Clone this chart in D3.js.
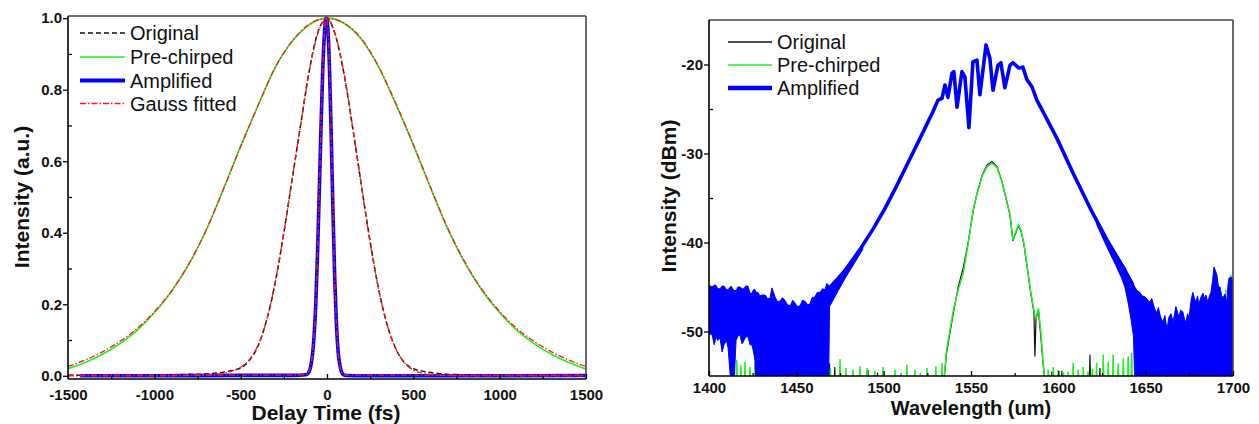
<!DOCTYPE html>
<html>
<head>
<meta charset="utf-8">
<script src="https://cdn.jsdelivr.net/npm/d3@7"></script>
<style>
  body { margin: 0; background: #fff; }
  svg text { font-family: "Liberation Sans", Arial, Helvetica, sans-serif; fill: #111; }
</style>
</head>
<body>
<svg id="chart" width="1259" height="424"></svg>
<script>
// ---------- Left panel: autocorrelation traces ----------
const delayWide = [-1500,-1400,-1300,-1200,-1100,-1000,-900,-800,-700,-600,-500,-400,-300,-200,-100,0,
                   100,200,300,400,500,600,700,800,900,1000,1100,1200,1300,1400,1500];
const preChirped    = [0.020,0.037,0.060,0.090,0.127,0.176,0.236,0.312,0.407,0.522,0.642,0.755,0.862,0.936,0.982,1.000,
                       0.985,0.940,0.862,0.758,0.645,0.525,0.410,0.314,0.237,0.176,0.127,0.090,0.060,0.037,0.019];
const preChirpedFit = [0.026,0.044,0.067,0.096,0.132,0.179,0.238,0.313,0.407,0.521,0.641,0.755,0.862,0.937,0.984,1.000,
                       0.986,0.942,0.864,0.760,0.647,0.527,0.412,0.317,0.240,0.180,0.132,0.096,0.067,0.044,0.026];

const delayMid = [-1500,-1300,-1100,-900,-800,-700,-650,-600,-550,-500,-450,-400,-350,-300,-250,-200,-150,-100,-50,0,
                  50,100,150,200,250,300,350,400,450,500,550,600,650,700,800,900,1100,1300,1500];
const original    = [0.002,0.001,0.002,0.003,0.004,0.005,0.007,0.010,0.015,0.022,0.043,0.083,0.155,0.260,0.400,0.555,0.710,0.860,0.965,0.998,
                     0.950,0.840,0.690,0.530,0.375,0.240,0.140,0.074,0.036,0.020,0.013,0.009,0.006,0.004,0.003,0.002,0.001,0.002,0.001];
const originalFit = [0,0,0,0,0.001,0.002,0.004,0.007,0.013,0.024,0.045,0.085,0.155,0.262,0.400,0.556,0.710,0.860,0.962,0.998,
                     0.952,0.842,0.690,0.530,0.372,0.240,0.140,0.074,0.036,0.016,0.008,0.004,0.002,0.001,0,0,0,0,0];

const delayNarrow = [-1430,-1000,-500,-200,-120,-105,-95,-85,-75,-65,-55,-45,-35,-25,-15,-5,
                     5,15,25,35,45,55,65,75,85,95,110,200,500,1000,1500];
const amplified    = [0,0,0.001,0.001,0.003,0.010,0.025,0.055,0.110,0.200,0.340,0.510,0.690,0.850,0.955,1.000,
                      0.970,0.850,0.660,0.450,0.270,0.140,0.065,0.028,0.010,0.003,0.001,0,0,0,0.001];
const delayFit = [-1500,-1000,-500,-200,-120,-105,-95,-85,-75,-65,-55,-45,-35,-25,-15,-5,
                  5,15,25,35,45,55,65,75,85,95,110,200,500,1000,1500];
const amplifiedFit = [0.002,0.002,0.002,0.002,0.004,0.011,0.027,0.057,0.112,0.200,0.340,0.510,0.690,0.850,0.955,1.000,
                      0.970,0.850,0.660,0.450,0.270,0.140,0.065,0.028,0.010,0.004,0.002,0.002,0.002,0.002,0.002];

const delayTicks = [-1500,-1000,-500,0,500,1000,1500];
const delayMinor = [-1250,-750,-250,250,750,1250];
const intensityTicks = [0,0.2,0.4,0.6,0.8,1.0];
const intensityMinor = [0.1,0.3,0.5,0.7,0.9];

// ---------- Right panel: optical spectra ----------
// amplified spectrum, main trace
const wlMain = [1468,1472,1478.8,1486.4,1493.9,1500.7,1507,1513.3,1520.8,1528.2,1531.1,1533.4,1535.1,1536.8,1539.1,1540.2,
                1542.0,1544.8,1546.5,1548.8,1551.1,1553.4,1555.1,1558.6,1560.8,1562.6,1565.4,1567.1,1569.4,1572.3,1574.0,
                1577.4,1579.7,1582.0,1584.9,1587.7,1591.2,1599.2,1608.4,1618.1,1627.8,1637.0,1642.7];
const ampMain = [-45.5,-44.6,-42.9,-40.8,-38.5,-36.2,-33.8,-31.3,-28.3,-25.3,-24.0,-23.8,-22.3,-23.7,-21.0,-20.8,
                 -24.8,-20.8,-21.4,-27.1,-19.7,-19.5,-23.4,-17.8,-19.3,-22.9,-20.1,-19.8,-22.6,-20.1,-19.8,
                 -20.4,-20.3,-21.7,-22.5,-24.0,-25.3,-28.3,-32.2,-36.1,-39.7,-42.75,-44.8];

// amplified spectrum, short-wavelength noise band (upper / lower envelope)
const wlNoiseL = [1400,1401.7,1403,1404,1405,1406.3,1407.5,1408.6,1410,1410.9,
                  1412.6,1414.3,1415.5,1416.6,1417.7,1419,1420,1421,1422.3,1423.5,
                  1424.6,1425.5,1426.3,1427,1428,1429.2,1430.5,1432.1,1433.5,1434.9,
                  1436,1437.8,1439,1440.6,1442,1443.5,1445,1446.4,1448,1449.2,
                  1450.5,1452.1,1453.5,1455,1456.5,1457.8,1459,1460.7,1462,1463.5,
                  1465,1466.4,1467.5,1468.5,1469,1471,1474,1478,1483,1488];
const noiseLHi = [-44.8,-45.0,-44.8,-44.8,-45.2,-45.2,-44.9,-44.9,-45.3,-45.3,
                  -44.9,-45.4,-45.4,-45.0,-45.0,-45.2,-45.2,-44.9,-44.9,-45.7,
                  -45.7,-45.3,-45.3,-45.6,-45.6,-46.0,-45.9,-45.9,-46.3,-46.3,
                  -45.1,-46.1,-46.6,-46.6,-46.2,-46.5,-47.0,-47.1,-46.5,-46.8,
                  -47.2,-47.1,-46.5,-46.6,-47.0,-46.9,-46.2,-46.1,-45.6,-45.6,
                  -45.2,-45.3,-44.6,-44.8,-44.9,-44.4,-43.8,-42.9,-41.6,-40.2];
const noiseLLo = [-50.3,-50.3,-51.5,-50.6,-51.0,-50.7,-52.3,-51.5,-51.0,-51.8,
                  -56,-56,-51.0,-50.5,-50.4,-51.4,-51.0,-50.6,-50.6,-51.5,
                  -51.5,-52.3,-53.2,-56,-56,-56,-56,-56,-56,-56,
                  -56,-56,-56,-56,-56,-56,-56,-56,-56,-56,
                  -56,-56,-56,-56,-56,-56,-56,-56,-56,-56,
                  -56,-56,-56,-56,-47.2,-46.5,-45.4,-44.0,-42.4,-40.8];

// amplified spectrum, long-wavelength noise band
const wlNoiseR = [1622,1628,1633,1636,1638.1,1640,1641.5,1643,1643.8,1645,
                  1646.7,1648,1649.6,1651,1652.4,1653.5,1654.2,1655.3,1656.4,1657.3,
                  1658.2,1659,1659.9,1661,1662.2,1663.3,1664.5,1665.6,1666.4,1667.3,
                  1668.2,1669,1670,1671.3,1672.2,1673,1674,1674.8,1676,1677,
                  1678,1678.8,1679.7,1680.5,1681.5,1682.8,1683.6,1684.5,1685.6,1686.5,
                  1687.4,1688.3,1689.1,1690,1690.8,1691.7,1692.6,1693.5,1694.3,1695.4,
                  1696.5,1697.1,1697.7,1699,1700];
const noiseRHi = [-37.3,-39.6,-41.2,-42.2,-42.8,-43.6,-44.1,-44.7,-45.0,-45.4,
                  -45.6,-46.0,-46.1,-46.4,-46.7,-46.3,-46.8,-47.5,-47.9,-47.3,
                  -48.1,-48.6,-48.9,-48.2,-49.8,-48.4,-48.0,-48.9,-48.2,-47.2,
                  -47.8,-48.4,-47.6,-47.8,-48.6,-49.0,-48.0,-48.5,-46.5,-45.6,
                  -46.3,-46.7,-46.0,-47.0,-46.2,-45.7,-46.3,-45.9,-46.7,-46.0,
                  -45.6,-44.3,-42.75,-43.2,-43.65,-45.0,-45.0,-46.0,-46.2,-45.8,
                  -46.8,-44.8,-44.0,-43.9,-44.2];
const noiseRLo = [-38.0,-40.6,-42.6,-43.9,-45.0,-46.8,-48.5,-50.5,-56,-56,
                  -56,-56,-56,-56,-56,-56,-56,-56,-56,-56,
                  -56,-56,-56,-56,-56,-56,-56,-56,-56,-56,
                  -56,-56,-56,-56,-56,-56,-56,-56,-56,-56,
                  -56,-56,-56,-56,-56,-56,-56,-56,-56,-56,
                  -56,-56,-56,-56,-56,-56,-56,-56,-56,-56,
                  -56,-56,-56,-56,-56];

// seed pulse spectra (original / pre-chirped)
const wlPulse = [1534.5,1536,1539.9,1542.7,1545.6,1548.4,1551.3,1553.4,1556.3,1559.1,1562,1564.9,1567.7,1570,1572.3,
                 1574,1575.7,1577.2,1578.6,1580.3,1582.6,1584.3,1586,1586.6,1587.2,1588.6,1590,1591.2,1592.3];
const preChirpedSpec = [-55.5,-52.1,-47.6,-45.3,-43.4,-40.1,-36.3,-34.6,-32.6,-31.5,-31.1,-31.6,-33.2,-35.0,-36.8,
                        -39.7,-38.8,-38.0,-38.6,-40.1,-43.3,-45.7,-47.6,-48.2,-48.5,-47.4,-50.1,-53.2,-55.5];
const originalSpec   = [-55.5,-52.4,-47.9,-45.0,-42.8,-40.0,-36.4,-34.5,-32.5,-31.3,-30.9,-31.5,-33.1,-35.0,-36.9,
                        -39.8,-38.9,-38.1,-38.7,-40.2,-43.4,-45.8,-47.8,-52.8,-48.6,-47.6,-50.6,-53.5,-55.5];

// noise-floor spikes of the seed spectra
const wlFloorGreen = [1415.9,1418.3,1420.6,1423.5,1426.3,1469.5,1475.0,1478.4,1482.4,1486.4,1490.4,1495.0,1499.6,1506.5,1510,
                      1513.3,1517.9,1521,1524.8,1529.9,1533.4,1594.2,1597.1,1599.9,1603,1605.7,1608.5,1611.4,1614.3,1617,
                      1619.5,1621.9,1625.7,1628.6,1631.4,1634.3,1637.2,1640.0,1642,1695.9,1698.8];
const floorGreen   = [-53.2,-53.8,-53.4,-54.0,-53.4,-54.2,-53.1,-54.1,-54.3,-53.9,-54.1,-54.4,-54.0,-54.3,-54.6,
                      -53.7,-54.3,-54.6,-54.1,-53.9,-53.5,-54.3,-54.0,-54.3,-54.6,-54.5,-53.5,-54.3,-54.0,-54.5,
                      -54.2,-53.5,-52.6,-53.4,-52.6,-53.6,-53.0,-52.8,-52.4,-45.3,-43.6];
const wlFloorBlack = [1469,1472,1491,1496.5,1596.3,1602,1618.1,1623.8,1694.5];
const floorBlack   = [-53.6,-54.0,-54.3,-54.6,-54.5,-54.4,-52.6,-54.1,-46.5];

const wlTicks = [1400,1450,1500,1550,1600,1650,1700];
const wlMinor = [1425,1475,1525,1575,1625,1675];
const dbmTicks = [-50,-40,-30,-20];
const dbmMinor = [-45,-35,-25];

const GREEN = "#22ee22", BLUE = "#0000ff", RED = "#ff1a1a";

const svg = d3.select("#chart");

// ---------- helpers ----------
function frame(g, b) {
  g.append("line").attr("x1", b.x0).attr("x2", b.x1).attr("y1", b.y0).attr("y2", b.y0)
    .attr("stroke", "#444").attr("stroke-width", 1.6);
  g.append("line").attr("x1", b.x1).attr("x2", b.x1).attr("y1", b.y0).attr("y2", b.y1)
    .attr("stroke", "#444").attr("stroke-width", 1.6);
  g.append("line").attr("x1", b.x0).attr("x2", b.x0).attr("y1", b.y0).attr("y2", b.y1)
    .attr("stroke", "#000").attr("stroke-width", 1.6);
  g.append("line").attr("x1", b.x0).attr("x2", b.x1).attr("y1", b.y1).attr("y2", b.y1)
    .attr("stroke", "#000").attr("stroke-width", 1.6);
}

// tick labels keep a plain hyphen for negatives
const plainInt = d => String(d);

function axes(g, b, x, y, xt, xm, yt, ym, yfmt, xpad) {
  const styleTicks = sel => {
    sel.select(".domain").remove();
    sel.selectAll(".tick line").attr("stroke", "#000").attr("stroke-width", 1.3);
    sel.selectAll(".tick text").attr("font-size", 15).attr("font-weight", "bold")
      .attr("font-family", "Liberation Sans, Arial, sans-serif").attr("fill", "#111");
  };
  g.append("g").attr("transform", `translate(0,${b.y1})`)
    .call(d3.axisBottom(x).tickValues(xt).tickSizeInner(-5).tickSizeOuter(0).tickPadding(xpad).tickFormat(plainInt))
    .call(styleTicks);
  g.append("g").attr("transform", `translate(0,${b.y1})`)
    .call(d3.axisBottom(x).tickValues(xm).tickSizeInner(-3).tickSizeOuter(0).tickFormat(""))
    .call(styleTicks);
  g.append("g").attr("transform", `translate(${b.x0},0)`)
    .call(d3.axisLeft(y).tickValues(yt).tickSizeInner(5).tickSizeOuter(0).tickPadding(1).tickFormat(yfmt))
    .call(styleTicks);
  g.append("g").attr("transform", `translate(${b.x0},0)`)
    .call(d3.axisRight(y).tickValues(ym).tickSizeInner(4).tickSizeOuter(0).tickFormat(""))
    .call(styleTicks);
}

function clip(id, b) {
  svg.append("clipPath").attr("id", id).append("rect")
    .attr("x", b.x0).attr("y", b.y0).attr("width", b.x1 - b.x0).attr("height", b.y1 - b.y0);
}

function legend(g, x0, x1, tx, rows) {
  rows.forEach(r => {
    g.append("line").attr("x1", x0).attr("x2", x1).attr("y1", r.y).attr("y2", r.y)
      .attr("stroke", r.color).attr("stroke-width", r.width)
      .attr("stroke-dasharray", r.dash || null);
    g.append("text").attr("x", tx).attr("y", r.y).attr("dy", "0.35em")
      .attr("font-size", 20).text(r.label);
  });
}

// ---------- left panel ----------
const LB = { x0: 68, x1: 586, y0: 16, y1: 379 };
const xL = d3.scaleLinear().domain([-1500, 1500]).range([LB.x0, LB.x1]);
const yL = d3.scaleLinear().domain([-0.009, 1.006]).range([LB.y1, LB.y0]);
clip("clipL", LB);
const gL = svg.append("g");
const plotL = gL.append("g").attr("clip-path", "url(#clipL)");

const lineL = d3.line().x(d => xL(d[0])).y(d => yL(d[1])).curve(d3.curveMonotoneX);
const zip = (a, b) => a.map((v, i) => [v, b[i]]);

plotL.append("path").attr("d", lineL(zip(delayWide, preChirped)))
  .attr("fill", "none").attr("stroke", GREEN).attr("stroke-width", 1.6);
plotL.append("path").attr("d", lineL(zip(delayMid, original)))
  .attr("fill", "none").attr("stroke", "#111").attr("stroke-width", 1.5).attr("stroke-dasharray", "5 3");
plotL.append("path").attr("d", lineL(zip(delayNarrow, amplified)))
  .attr("fill", "none").attr("stroke", BLUE).attr("stroke-width", 3.6).attr("stroke-linejoin", "round");
[[delayWide, preChirpedFit], [delayMid, originalFit], [delayFit, amplifiedFit]].forEach(([t, v]) => {
  plotL.append("path").attr("d", lineL(zip(t, v)))
    .attr("fill", "none").attr("stroke", RED).attr("stroke-width", 1.3).attr("stroke-dasharray", "6 2 1.5 2");
});

frame(gL, LB);
axes(gL, LB, xL, yL, delayTicks, delayMinor, intensityTicks, intensityMinor, d3.format(".1f"), 10);

legend(gL, 80, 125, 130, [
  { y: 33, label: "Original", color: "#111", width: 1.5, dash: "5 3" },
  { y: 57, label: "Pre-chirped", color: GREEN, width: 1.6 },
  { y: 80.5, label: "Amplified", color: BLUE, width: 4.2 },
  { y: 103.5, label: "Gauss fitted", color: RED, width: 1.5, dash: "6 2 1.5 2" }
]);

gL.append("text").attr("x", 326).attr("y", 420).attr("text-anchor", "middle")
  .attr("font-size", 21).attr("font-weight", "bold").text("Delay Time (fs)");
gL.append("text").attr("transform", "translate(29,197) rotate(-90)").attr("text-anchor", "middle")
  .attr("font-size", 21).attr("font-weight", "bold").text("Intensity (a.u.)");

// ---------- right panel ----------
const RB = { x0: 709, x1: 1233, y0: 20, y1: 376 };
const xR = d3.scaleLinear().domain([1400, 1700]).range([RB.x0, RB.x1]);
const yR = d3.scaleLinear().domain([-55, -15]).range([RB.y1, RB.y0]);
clip("clipR", RB);
const gR = svg.append("g");
const plotR = gR.append("g").attr("clip-path", "url(#clipR)");

const lineR = d3.line().x(d => xR(d[0])).y(d => yR(d[1]));

// seed spectrum = noise-floor spikes + pulse, merged in wavelength order
function seedTrace(wlF, dbF, wlP, dbP) {
  const pts = [];
  wlF.forEach((w, i) => { pts.push([w - 0.45, -57], [w, dbF[i]], [w + 0.45, -57]); });
  wlP.forEach((w, i) => pts.push([w, dbP[i]]));
  pts.sort((a, b) => a[0] - b[0]);
  return [[1400, -57], ...pts, [1700, -57]];
}

plotR.append("path").attr("d", lineR(seedTrace(wlFloorBlack, floorBlack, wlPulse, originalSpec)))
  .attr("fill", "none").attr("stroke", "#111").attr("stroke-width", 1.2);
plotR.append("path").attr("d", lineR(seedTrace(wlFloorGreen, floorGreen, wlPulse, preChirpedSpec)))
  .attr("fill", "none").attr("stroke", GREEN).attr("stroke-width", 1.5);

const band = d3.area().x(d => xR(d[0])).y0(d => yR(d[2])).y1(d => yR(d[1]));
const tri = (w, h, l) => w.map((v, i) => [v, h[i], l[i]]);
plotR.append("path").attr("d", band(tri(wlNoiseL, noiseLHi, noiseLLo)))
  .attr("fill", BLUE).attr("stroke", BLUE).attr("stroke-width", 1);
plotR.append("path").attr("d", band(tri(wlNoiseR, noiseRHi, noiseRLo)))
  .attr("fill", BLUE).attr("stroke", BLUE).attr("stroke-width", 1);
plotR.append("path").attr("d", lineR(zip(wlMain, ampMain)))
  .attr("fill", "none").attr("stroke", BLUE).attr("stroke-width", 3.6).attr("stroke-linejoin", "round");

frame(gR, RB);
axes(gR, RB, xR, yR, wlTicks, wlMinor, dbmTicks, dbmMinor, plainInt, 6);

legend(gR, 728, 772, 777, [
  { y: 42, label: "Original", color: "#111", width: 1.5 },
  { y: 65, label: "Pre-chirped", color: GREEN, width: 1.6 },
  { y: 88, label: "Amplified", color: BLUE, width: 4.5 }
]);

gR.append("text").attr("x", 971).attr("y", 415).attr("text-anchor", "middle")
  .attr("font-size", 20).attr("font-weight", "bold").text("Wavelength (um)");
gR.append("text").attr("transform", "translate(676,196) rotate(-90)").attr("text-anchor", "middle")
  .attr("font-size", 21).attr("font-weight", "bold").text("Intensity (dBm)");
</script>
</body>
</html>
